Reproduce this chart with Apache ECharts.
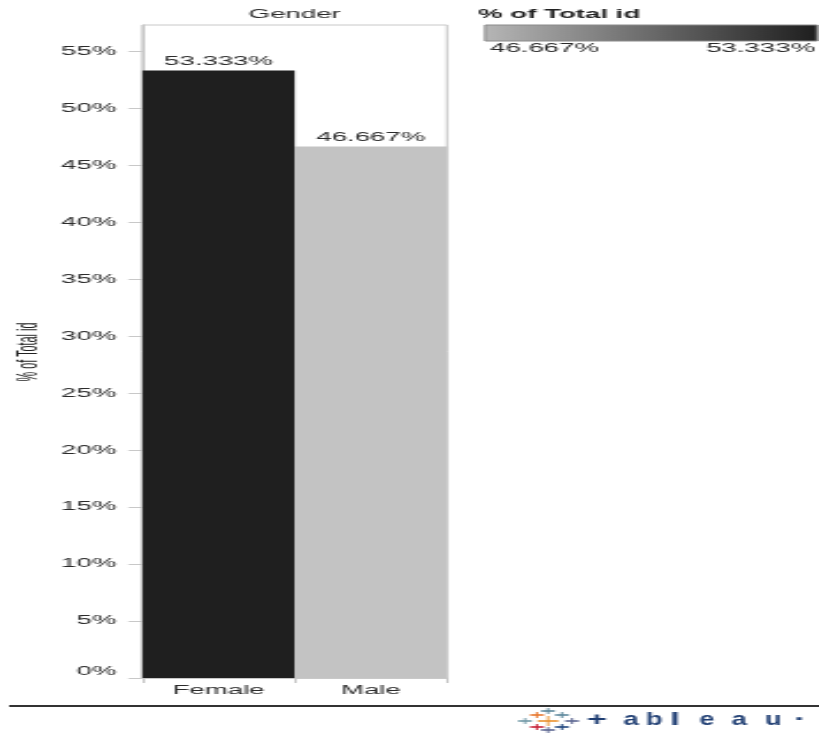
<!DOCTYPE html>
<html>
<head>
<meta charset="utf-8">
<title>% of Total id by Gender</title>
<script src="https://cdn.jsdelivr.net/npm/echarts@6/dist/echarts.min.js"></script>
<style>
  html, body { margin: 0; padding: 0; background: #ffffff; overflow: hidden; }
  /* The dashboard is laid out narrow and widened horizontally */
  #chart {
    width: 356px;
    height: 735px;
    transform: scaleX(2.30056);
    transform-origin: 0 0;
  }
</style>
</head>
<body>
<div id="chart"></div>
<script>
// ---- data ----
const categories = ['Female', 'Male'];
const pctOfTotalId = [53.333, 46.667];
const yTickValues = [0, 5, 10, 15, 20, 25, 30, 35, 40, 45, 50, 55];
const colorRange = [46.667, 53.333];

// ---- styling ----
const FONT = "'Liberation Sans', Arial, sans-serif";
const TEXT = '#2b2b2b';
const FRAME = '#c8c8c8';
const fmtPct = v => v.toFixed(3) + '%';
const S = 2.30056; // horizontal widening of the container

const chart = echarts.init(document.getElementById('chart'), null, { renderer: 'canvas' });

// small coloured crosses of the footer logo
function cross(cx, cy, hw, hh, color) {
  return [
    { type: 'line', shape: { x1: cx - hw, y1: cy, x2: cx + hw, y2: cy },
      style: { stroke: color, lineWidth: 1.6 } },
    { type: 'line', shape: { x1: cx, y1: cy - hh, x2: cx, y2: cy + hh },
      style: { stroke: color, lineWidth: 0.9 } }
  ];
}
const logo = [].concat(
  cross(537 / S, 715, 3, 3, '#e8762c'),
  cross(548 / S, 711, 3, 3, '#5b879b'),
  cross(562 / S, 715, 3, 3, '#5b879b'),
  cross(525 / S, 721, 3, 3, '#7099a6'),
  cross(548 / S, 721, 4.5, 5, '#eb912b'),
  cross(572 / S, 721, 3, 3, '#5c6692'),
  cross(537 / S, 727, 3, 3, '#c72035'),
  cross(562 / S, 727, 3, 3, '#1f457e'),
  cross(548 / S, 730, 3, 3, '#5c6692')
);

// narrow wordmark letters
const wordmark = [
  ['+', 597, 0.8], ['a', 631, 0.62], ['b', 654, 0.62], ['l', 675, 0.8],
  ['e', 707, 0.62], ['a', 739, 0.62], ['u', 773, 0.62], ['·', 800, 0.8]
].map(([ch, cx, sx]) => ({
  type: 'text', x: cx / S, y: 720, scaleX: sx,
  style: { text: ch, fill: '#1f3e73', font: 'bold 19px ' + FONT, align: 'center', verticalAlign: 'middle' }
}));

const option = {
  backgroundColor: '#ffffff',
  animation: false,
  textStyle: { fontFamily: FONT },
  grid: {
    left: 61.9, top: 25, width: 132.4, bottom: 57,
    show: true, borderColor: FRAME, borderWidth: 1, backgroundColor: 'transparent'
  },
  visualMap: {
    show: false,
    type: 'continuous',
    seriesIndex: 0,
    min: colorRange[0],
    max: colorRange[1],
    inRange: { color: ['#c3c3c3', '#1f1f1f'] }
  },
  xAxis: {
    type: 'category',
    data: categories,
    axisLine: { show: true, lineStyle: { color: FRAME, width: 1 } },
    axisTick: { show: true, alignWithLabel: false, length: 5, lineStyle: { color: FRAME } },
    axisLabel: { color: TEXT, fontSize: 12, fontFamily: FONT, margin: 7 },
    splitLine: { show: false }
  },
  yAxis: {
    type: 'value',
    min: 0,
    max: 57.33,
    axisLine: { show: true, lineStyle: { color: FRAME, width: 1 } },
    axisTick: { show: true, customValues: yTickValues, length: 6.1, lineStyle: { color: FRAME } },
    axisLabel: {
      customValues: yTickValues,
      // the baseline label sits slightly above its tick
      formatter: v => (v === 0 ? '{zero|' + v + '%}' : v + '%'),
      rich: { zero: { padding: [0, 0, 12, 0], fontSize: 12, color: TEXT, fontFamily: FONT } },
      color: TEXT, fontSize: 12, fontFamily: FONT, margin: 11.3
    },
    splitLine: { show: false }
  },
  series: [{
    type: 'bar',
    data: pctOfTotalId,
    barCategoryGap: '0%',
    label: {
      show: true,
      position: 'top',
      distance: 3,
      formatter: p => fmtPct(p.value),
      color: TEXT, fontSize: 12, fontFamily: FONT
    }
  }],
  graphic: [
    // value axis title
    { type: 'text', x: 29 / S, y: 352, rotation: Math.PI / 2, scaleX: 0.83,
      style: { text: '% of Total id', fill: '#222', font: '13px ' + FONT, align: 'center', verticalAlign: 'middle' } },
    // column header
    { type: 'text', x: 128.1, y: 15,
      style: { text: 'Gender', fill: TEXT, font: '12px ' + FONT, align: 'center', verticalAlign: 'middle' } },
    // colour legend
    { type: 'text', x: 207.8, y: 15,
      style: { text: '% of Total id', fill: '#222', font: 'bold 12px ' + FONT, align: 'left', verticalAlign: 'middle' } },
    { type: 'rect', shape: { x: 210.9, y: 25, width: 144.3, height: 16 },
      style: {
        fill: new echarts.graphic.LinearGradient(0, 0, 1, 0, [
          { offset: 0, color: '#b6b6b6' },
          { offset: 1, color: '#1e1e1e' }
        ]),
        stroke: '#8a8a8a', lineWidth: 1
      } },
    { type: 'text', x: 213, y: 49,
      style: { text: fmtPct(colorRange[0]), fill: TEXT, font: '12px ' + FONT, align: 'left', verticalAlign: 'middle' } },
    { type: 'text', x: 354.3, y: 49,
      style: { text: fmtPct(colorRange[1]), fill: TEXT, font: '12px ' + FONT, align: 'right', verticalAlign: 'middle' } },
    // footer rule
    { type: 'line', shape: { x1: 4, y1: 706, x2: 356, y2: 706 },
      style: { stroke: '#333', lineWidth: 2 } }
  ].concat(wordmark, logo)
};

chart.setOption(option);
</script>
</body>
</html>
